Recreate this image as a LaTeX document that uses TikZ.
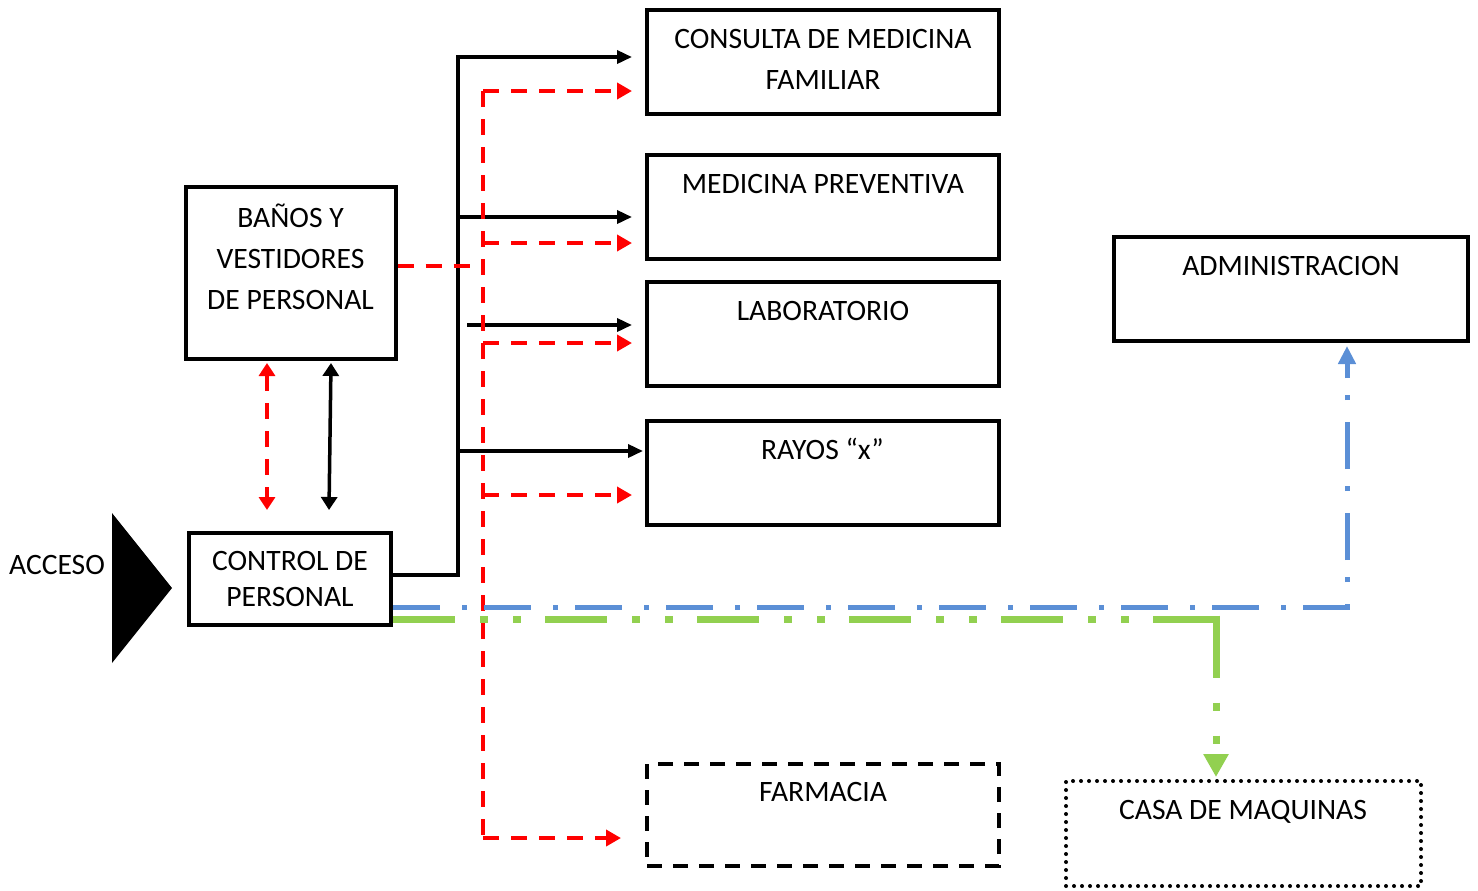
\documentclass[tikz,border=0pt]{standalone}
\usepackage{fontspec}
\setmainfont{Carlito}
\usetikzlibrary{arrows.meta,positioning,calc}
\definecolor{azul}{HTML}{5B8FD6}
\definecolor{verde}{HTML}{92D050}
\tikzset{
  area/.style={draw,line width=2pt,minimum width=176pt,minimum height=52pt,inner sep=0pt},
  areadash/.style={area,line width=2pt,dash pattern=on 7.5pt off 5.5pt},
  areadot/.style={area,line width=2pt,line cap=round,dash pattern=on 0pt off 4pt},
  rotulo/.style={font=\fontsize{14.8}{20.5}\selectfont,align=center,inner sep=0pt},
  flow/.style={-{Triangle[length=7.5pt,width=6.5pt]},line width=1.75pt},
  both/.style={{Triangle[length=6.5pt,width=8pt]}-{Triangle[length=6.5pt,width=8pt]},line width=1.75pt},
  rline/.style={red,line width=2pt,dash pattern=on 8pt off 6pt},
  rflow/.style={rline,-{Triangle[length=7.5pt,width=8pt]}},
  rboth/.style={rline,{Triangle[length=6.5pt,width=8pt]}-{Triangle[length=6.5pt,width=8pt]}},
  bflow/.style={azul,line width=2.5pt,dash pattern=on 23.5pt off 11pt on 2.5pt off 8.5pt,
    -{Triangle[length=9pt,width=8.5pt]}},
  gline/.style={verde,line width=3.5pt,
    dash pattern=on 31pt off 12.5pt on 4pt off 12.5pt on 4pt off 12pt},
  gflow/.style={gline,-{Triangle[length=11.5pt,width=12pt]}},
}
\begin{document}
\begin{tikzpicture}[x=0.5pt,y=-0.5pt]
  \useasboundingbox (0,0) rectangle (1478,890);

  % areas
  \node[area] (consulta) at (823,62) {};
  \node[area] (medicina) at (823,207) {};
  \node[area] (laboratorio) at (823,334) {};
  \node[area] (rayos) at (823,473) {};
  \node[areadash,minimum height=51pt] (farmacia) at (823,815) {};
  \node[area,minimum width=177pt] (admin) at (1290.5,289) {};
  \node[areadot,minimum width=177.5pt,minimum height=52.5pt] (casa) at (1243.5,833.5) {};
  \node[area,minimum width=105pt,minimum height=86pt] (banos) at (290.5,273) {};
  \node[area,minimum width=101pt,minimum height=46pt] (control) at (290,578.5) {};

  % textos
  \node[rotulo] (consulta-t) at (823,59.5) {CONSULTA DE MEDICINA\\FAMILIAR};
  \node[rotulo,anchor=base] (medicina-t) at (823,193.7) {MEDICINA PREVENTIVA};
  \node[rotulo,anchor=base] (laboratorio-t) at (823,320.7) {LABORATORIO};
  \node[rotulo,anchor=base] (rayos-t) at (822.5,459.7) {RAYOS “x”};
  \node[rotulo,anchor=base] (farmacia-t) at (823,801.7) {FARMACIA};
  \node[rotulo,anchor=base] (admin-t) at (1291,275.7) {ADMINISTRACION};
  \node[rotulo,anchor=base] (casa-t) at (1243,819.7) {CASA DE MAQUINAS};
  \node[rotulo] (banos-t) at (290.5,257) {BAÑOS Y\\VESTIDORES\\DE PERSONAL};
  \node[rotulo,font=\fontsize{14.8}{18}\selectfont] (control-t) at (290,579) {CONTROL DE\\PERSONAL};
  \node[rotulo,anchor=base] (acceso) at (57,574.7) {ACCESO};

  % entrada
  \fill (112,513) -- (172,588) -- (112,663) -- cycle;

  % circulacion de personal (negro)
  \coordinate (nudo1) at (458,217);
  \coordinate (nudo2) at (467,325);
  \coordinate (nudo3) at (458,451);
  \draw[flow] ([yshift=1.75pt]control.east) -| (458,57) -- ([xshift=-6.5pt]consulta.west |- 0,57);
  \draw[flow] (nudo1) -- ([xshift=-6.5pt]medicina.west |- nudo1);
  \draw[flow] (nudo2) -- ([xshift=-6.5pt]laboratorio.west |- nudo2);
  \draw[flow] (nudo3) -- ([xshift=-1pt]rayos.west |- nudo3);
  \draw[both] ([xshift=20.25pt,yshift=-1pt]banos.south) -- ([xshift=19.5pt,yshift=10.25pt]control.north);

  % circulacion roja
  \coordinate (rojo-arriba) at (483,91);
  \coordinate (rojo-abajo) at (483,838);
  \draw[rline] ([yshift=3.5pt]banos.east) -- (rojo-arriba |- 0,266);
  \draw[rline] (rojo-arriba) -- (rojo-abajo);
  \foreach \y/\dest/\gap in {91/consulta/6.5,243/medicina/6.5,343/laboratorio/6.5,
      495/rayos/6.5,838/farmacia/12}
    \draw[rflow] (rojo-arriba |- 0,\y) -- ([xshift=-\gap pt]\dest.west |- 0,\y);
  \draw[rboth] ([yshift=-1pt]267,0 |- banos.south) -- ([yshift=10.25pt]267,0 |- control.north);

  % administracion y casa de maquinas
  \draw[bflow] (control.east |- 0,607) -| ([xshift=28.25pt,yshift=-1.5pt]admin.south);
  \coordinate (esquina) at (1216,619);
  \draw[gline] (control.east |- esquina) -- ([xshift=1.75pt]esquina);
  \draw[gflow] ([yshift=1.75pt]esquina) -- ([xshift=-13.75pt,yshift=1pt]casa.north);
\end{tikzpicture}
\end{document}
